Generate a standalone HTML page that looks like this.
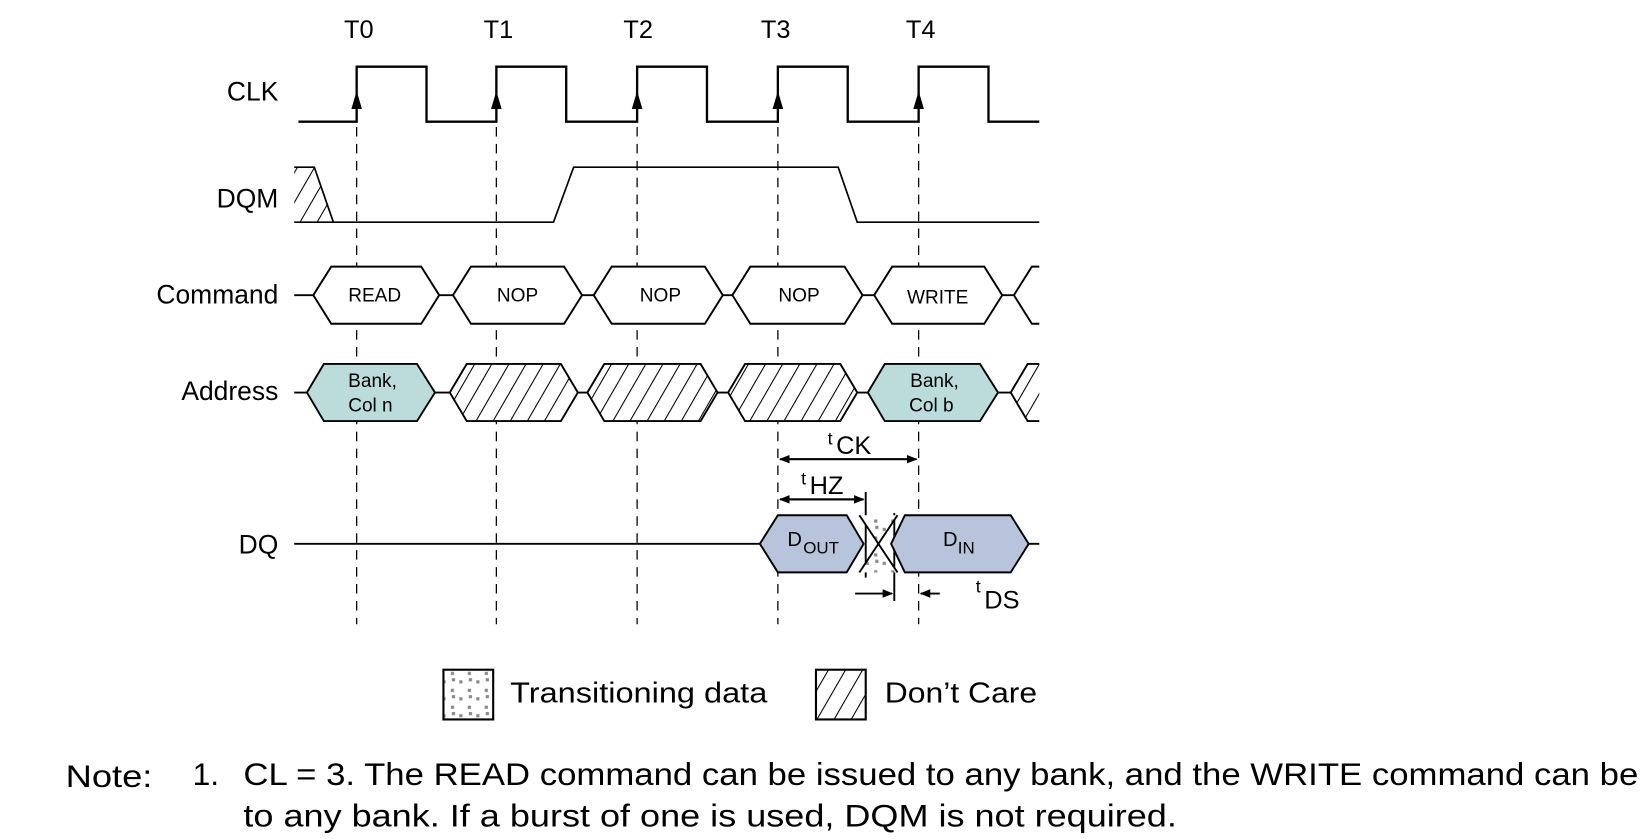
<!DOCTYPE html>
<html><head><meta charset="utf-8"><style>
html,body{margin:0;padding:0;background:#fff;}
svg{display:block;}
text{font-family:"Liberation Sans",sans-serif;fill:#000;}
</style></head><body>
<svg width="1651" height="839" viewBox="0 0 1560 793" preserveAspectRatio="none" xmlns="http://www.w3.org/2000/svg">
<defs>
<pattern id="hatch" patternUnits="userSpaceOnUse" width="14" height="14" patternTransform="rotate(30)">
<rect width="14" height="14" fill="#fff"/>
<line x1="0" y1="0" x2="0" y2="14" stroke="#000" stroke-width="2"/>
</pattern>
<pattern id="dots" patternUnits="userSpaceOnUse" width="16" height="16">
<rect width="16" height="16" fill="#fff"/>
<rect x="2" y="3" width="3" height="3" fill="#888"/>
<rect x="10" y="11" width="3" height="3" fill="#888"/>
<rect x="11" y="1" width="3" height="3" fill="#888"/>
</pattern>
<marker id="ar" markerWidth="10" markerHeight="10" refX="9" refY="5" orient="auto" markerUnits="userSpaceOnUse">
<path d="M0,1 L10,5 L0,9 z" fill="#000"/>
</marker>
</defs>

<g font-size="24" text-anchor="middle">
<text x="339" y="36">T0</text><text x="471" y="36">T1</text><text x="603" y="36">T2</text><text x="733" y="36">T3</text><text x="870" y="36">T4</text>
</g>
<g font-size="25" text-anchor="end">
<text x="263" y="95">CLK</text>
<text x="263" y="196">DQM</text>
<text x="263" y="287">Command</text>
<text x="263" y="378">Address</text>
<text x="263" y="523">DQ</text>
</g>

<g stroke="#000" stroke-width="1.2" stroke-dasharray="9,7">
<line x1="337" y1="120" x2="337" y2="590"/>
<line x1="469" y1="120" x2="469" y2="590"/>
<line x1="602" y1="120" x2="602" y2="590"/>
<line x1="735" y1="120" x2="735" y2="590"/>
<line x1="868" y1="120" x2="868" y2="590"/>
</g>

<polyline fill="none" stroke="#000" stroke-width="2.2" points="282,115 337,115 337,63 403,63 403,115 469,115 469,63 535,63 535,115 602,115 602,63 668,63 668,115 735,115 735,63 801,63 801,115 868,115 868,63 934,63 934,115 982,115"/>
<g fill="#000">
<path d="M337,86 l-5,17 h10z"/><path d="M469,86 l-5,17 h10z"/><path d="M602,86 l-5,17 h10z"/><path d="M735,86 l-5,17 h10z"/><path d="M868,86 l-5,17 h10z"/>
</g>

<path d="M278,158 L297,158 L315,210 L278,210 z" fill="url(#hatch)"/>
<polyline fill="none" stroke="#000" stroke-width="1.6" points="278,158 297,158 315,210"/>
<polyline fill="none" stroke="#000" stroke-width="1.6" points="278,210 523,210 542,158 792,158 810,210 982,210"/>

<g stroke="#000" stroke-width="1.8" fill="#fff">
<line x1="278" y1="279" x2="958" y2="279"/>
<polygon points="296,279 313,252 398,252 415,279 398,306 313,306"/>
<polygon points="428,279 445,252 533,252 550,279 533,306 445,306"/>
<polygon points="561,279 578,252 666,252 683,279 666,306 578,306"/>
<polygon points="692,279 709,252 798,252 815,279 798,306 709,306"/>
<polygon points="826,279 843,252 930,252 947,279 930,306 843,306"/>
<polyline fill="none" points="982,252 975,252 958,279 975,306 982,306"/>
</g>
<g font-size="18" text-anchor="middle">
<text x="354" y="285">READ</text><text x="489" y="285">NOP</text><text x="624" y="285">NOP</text><text x="755" y="285">NOP</text><text x="886" y="287">WRITE</text>
</g>

<g stroke="#000" stroke-width="1.8">
<line x1="278" y1="371" x2="955" y2="371"/>
<polygon fill="#bcdcdc" points="290,371 306,344 394,344 411,371 394,398 306,398"/>
<polygon fill="url(#hatch)" points="425,371 441,344 530,344 546,371 530,398 441,398"/>
<polygon fill="url(#hatch)" points="555,371 571,344 662,344 678,371 662,398 571,398"/>
<polygon fill="url(#hatch)" points="688,371 704,344 794,344 810,371 794,398 704,398"/>
<polygon fill="#bcdcdc" points="820,371 836,344 926,344 943,371 926,398 836,398"/>
<polygon fill="url(#hatch)" stroke="none" points="955,371 971,344 982,344 982,398 971,398"/>
<polyline fill="none" points="982,344 971,344 955,371 971,398 982,398"/>
</g>
<g font-size="18" text-anchor="middle">
<text x="352" y="366">Bank,</text><text x="350" y="389">Col n</text>
<text x="883" y="366">Bank,</text><text x="880" y="389">Col b</text>
</g>

<g stroke="#000" stroke-width="1.8">
<line x1="745" y1="434" x2="866" y2="434" marker-end="url(#ar)"/>
<line x1="858" y1="434" x2="737" y2="434" marker-end="url(#ar)"/>
<line x1="745" y1="472" x2="816" y2="472" marker-end="url(#ar)"/>
<line x1="808" y1="472" x2="737" y2="472" marker-end="url(#ar)"/>
<line x1="818" y1="465" x2="818" y2="546"/>
<line x1="845" y1="485" x2="845" y2="568"/>
<line x1="808" y1="561" x2="843" y2="561" marker-end="url(#ar)"/>
<line x1="888" y1="561" x2="870" y2="561" marker-end="url(#ar)"/>
</g>
<text x="782" y="420" font-size="17">t</text><text x="790" y="429" font-size="24">CK</text>
<text x="757" y="458" font-size="17">t</text><text x="765" y="467" font-size="24">HZ</text>
<text x="922" y="560" font-size="17">t</text><text x="930" y="575" font-size="24">DS</text>

<g stroke="#000" stroke-width="1.8">
<line x1="278" y1="514" x2="718" y2="514"/>
<line x1="972" y1="514" x2="982" y2="514"/>
<polygon fill="url(#dots)" stroke="none" points="812,487 848,487 830,514 848,541 812,541 830,514"/>
<line x1="812" y1="487" x2="848" y2="541"/>
<line x1="848" y1="487" x2="812" y2="541"/>
<polygon fill="#b8c4dc" points="718,514 735,487 800,487 816,514 800,541 735,541"/>
<polygon fill="#b8c4dc" points="842,514 855,487 955,487 972,514 955,541 855,541"/>
</g>
<text x="744" y="516" font-size="19">D</text><text x="759" y="523" font-size="16">OUT</text>
<text x="891" y="516" font-size="19">D</text><text x="905" y="523" font-size="16">IN</text>

<rect x="419" y="633" width="47" height="47" fill="url(#dots)" stroke="#000" stroke-width="2"/>
<text x="482" y="664" font-size="27" textLength="243" lengthAdjust="spacingAndGlyphs">Transitioning data</text>
<rect x="771" y="633" width="47" height="47" fill="url(#hatch)" stroke="#000" stroke-width="2"/>
<text x="836" y="664" font-size="27" textLength="144" lengthAdjust="spacingAndGlyphs">Don’t Care</text>

<g font-size="30">
<text x="62" y="744" textLength="82" lengthAdjust="spacingAndGlyphs">Note:</text>
<text x="182" y="742">1.</text>
<text x="230" y="742" textLength="1318" lengthAdjust="spacingAndGlyphs">CL = 3. The READ command can be issued to any bank, and the WRITE command can be</text>
<text x="230" y="781" textLength="882" lengthAdjust="spacingAndGlyphs">to any bank. If a burst of one is used, DQM is not required.</text>
</g>
</svg>
</body></html>
